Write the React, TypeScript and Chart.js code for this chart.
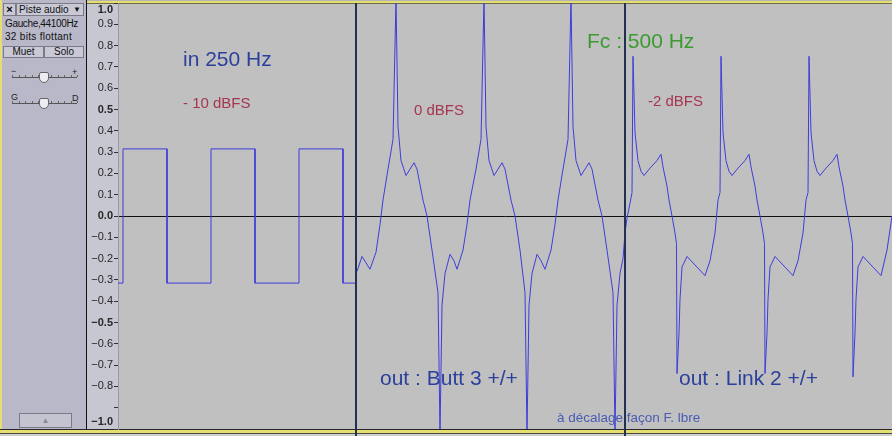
import React, { useEffect, useRef } from 'react';
import { Chart, registerables } from 'chart.js';

Chart.register(...registerables);

// x = sample index (44100 Hz), y = amplitude
const X_MIN = 0;
const X_MAX = 1548;

const INPUT_X = [0, 10, 10, 98, 98, 186, 186, 274, 274, 362, 362, 450, 450, 476];
const INPUT_Y = [-0.315, -0.315, 0.315, 0.315, -0.315, -0.315, 0.315, 0.315, -0.315, -0.315, 0.315, 0.315, -0.315, -0.315];

const BUTT_X = [478, 488, 496, 504, 516, 524, 530, 540, 550, 556, 560, 566, 576, 584, 592, 598, 610, 618, 628, 640, 644, 648, 654, 664, 672, 678, 690, 698, 704, 716, 726, 732, 736, 742, 752, 760, 768, 774, 786, 794, 804, 814, 818, 822, 828, 838, 846, 854, 866, 874, 880, 890, 900, 906, 910, 916, 926, 934, 942, 948, 960, 968, 978, 990, 994, 998, 1004, 1010, 1014];
const BUTT_Y = [-0.26, -0.19, -0.22, -0.25, -0.17, -0.04, 0.075, 0.22, 0.36, 1.02, 0.42, 0.26, 0.19, 0.22, 0.25, 0.22, 0.075, 0, -0.16, -0.36, -1.02, -0.42, -0.27, -0.18, -0.21, -0.25, -0.16, -0.04, 0.075, 0.22, 0.36, 1.02, 0.42, 0.26, 0.19, 0.22, 0.25, 0.22, 0.075, 0, -0.16, -0.36, -1.02, -0.42, -0.27, -0.18, -0.21, -0.25, -0.16, -0.04, 0.075, 0.22, 0.36, 1.02, 0.42, 0.26, 0.19, 0.22, 0.25, 0.22, 0.075, 0, -0.16, -0.36, -1.02, -0.42, -0.27, -0.2, -0.08];

const LINK_X = [1014, 1018, 1024, 1028, 1030, 1034, 1040, 1046, 1052, 1064, 1078, 1086, 1090, 1098, 1102, 1108, 1114, 1117, 1118, 1122, 1124, 1128, 1138, 1158, 1174, 1184, 1194, 1200, 1204, 1206, 1210, 1216, 1222, 1228, 1240, 1254, 1262, 1266, 1274, 1278, 1284, 1290, 1293, 1294, 1298, 1300, 1304, 1314, 1334, 1350, 1360, 1370, 1376, 1380, 1382, 1386, 1392, 1398, 1404, 1416, 1430, 1438, 1442, 1450, 1454, 1460, 1466, 1469, 1470, 1474, 1476, 1480, 1490, 1510, 1526, 1538, 1548];
const LINK_Y = [-0.08, -0.01, 0.06, 0.11, 0.75, 0.39, 0.26, 0.21, 0.19, 0.225, 0.26, 0.29, 0.23, 0.14, 0.075, 0, -0.08, -0.13, -0.74, -0.55, -0.39, -0.24, -0.19, -0.24, -0.28, -0.21, -0.08, 0.075, 0.11, 0.75, 0.39, 0.26, 0.21, 0.19, 0.225, 0.26, 0.29, 0.23, 0.14, 0.075, 0, -0.08, -0.13, -0.74, -0.55, -0.39, -0.24, -0.19, -0.24, -0.28, -0.21, -0.08, 0.075, 0.11, 0.75, 0.39, 0.26, 0.21, 0.19, 0.225, 0.26, 0.29, 0.23, 0.14, 0.075, 0, -0.08, -0.13, -0.755, -0.55, -0.39, -0.24, -0.19, -0.24, -0.28, -0.16, 0.0];

const CLIP_BOUNDARIES = [476, 1014];

const TICK_VALUES = [-1, -0.9, -0.8, -0.7, -0.6, -0.5, -0.4, -0.3, -0.2, -0.1, 0, 0.1, 0.2, 0.3, 0.4, 0.5, 0.6, 0.7, 0.8, 0.9, 1];
const TICK_LABELS = ['\u22121.0', '', '\u22120.8', '\u22120.7', '\u22120.6', '\u22120.5', '\u22120.4', '\u22120.3', '\u22120.2', '\u22120.1', '0.0', '0.1', '0.2', '0.3', '0.4', '0.5', '0.6', '0.7', '0.8', '0.9', '1.0'];
const MAJOR_TICKS = [-1, -0.5, 0, 0.5, 1];

const WAVE_COLOR = '#3d3dd8';
const YELLOW = '#e4df70';

const toPoints = (xs: number[], ys: number[]) => xs.map((x, i) => ({ x, y: ys[i] }));

const boundaryPlugin = {
  id: 'clipBoundaries',
  afterDatasetsDraw(chart: any) {
    const { ctx, chartArea } = chart;
    const xs = chart.scales.x;
    ctx.save();
    ctx.strokeStyle = '#22314f';
    ctx.lineWidth = 2;
    CLIP_BOUNDARIES.forEach((v) => {
      const px = Math.round(xs.getPixelForValue(v));
      ctx.beginPath();
      ctx.moveTo(px, chartArea.top);
      ctx.lineTo(px, chart.height);
      ctx.stroke();
    });
    ctx.restore();
  },
};

function WaveChart() {
  const ref = useRef<HTMLCanvasElement | null>(null);
  useEffect(() => {
    if (!ref.current) return;
    const ds = (data: any) => ({
      data,
      borderColor: WAVE_COLOR,
      borderWidth: 1,
      pointRadius: 0,
      fill: false,
      tension: 0,
    });
    const chart = new Chart(ref.current, {
      type: 'line',
      data: {
        datasets: [
          { label: 'in 250 Hz', ...ds(toPoints(INPUT_X, INPUT_Y)) },
          { label: 'out : Butt 3 +/+', ...ds(toPoints(BUTT_X, BUTT_Y)) },
          { label: 'out : Link 2 +/+', ...ds(toPoints(LINK_X, LINK_Y)) },
        ],
      },
      options: {
        animation: false,
        responsive: false,
        events: [],
        layout: { padding: { top: 3, bottom: 7, left: 0, right: 0 } },
        plugins: { legend: { display: false }, tooltip: { enabled: false } },
        scales: {
          x: { type: 'linear', min: X_MIN, max: X_MAX, display: false },
          y: {
            type: 'linear',
            min: -1,
            max: 1,
            position: 'left',
            afterBuildTicks: (scale: any) => {
              scale.ticks = TICK_VALUES.map((v) => ({ value: v }));
            },
            afterFit: (scale: any) => {
              scale.width = 31;
              scale.paddingTop = 0;
              scale.paddingBottom = 0;
            },
            border: { display: true, color: '#9a9aa6', width: 1 },
            grid: {
              drawTicks: true,
              tickLength: 4,
              tickColor: '#333333',
              color: (ctx: any) => (ctx.tick && ctx.tick.value === 0 ? '#111111' : 'rgba(0,0,0,0)'),
              lineWidth: 1,
            },
            ticks: {
              autoSkip: false,
              padding: 1,
              color: '#262626',
              font: (ctx: any) => ({
                family: 'Liberation Sans, Arial, sans-serif',
                size: 11,
                weight: ctx.tick && MAJOR_TICKS.includes(ctx.tick.value) ? 'bold' : 'normal',
              }),
              callback: (value: any, index: number) => {
                const label = TICK_LABELS[index];
                if (value === 1) return ['', label];
                if (value === -1) return [label, ''];
                return label;
              },
            },
          },
        },
      },
      plugins: [boundaryPlugin],
    } as any);
    return () => chart.destroy();
  }, []);
  return <canvas ref={ref} width={805} height={436} style={{ position: 'absolute', left: 87, top: 0, width: 805, height: 436 }} />;
}

const abs = (s: React.CSSProperties): React.CSSProperties => ({ position: 'absolute', ...s });

function Slider({ top, left, right }: { top: number; left: string; right: string }) {
  const ticks = [0, 1, 2, 3, 4, 5, 6, 7, 8, 9, 10];
  return (
    <>
      <div style={abs({ left: 11, top: top - 11, fontSize: 9, color: '#222', lineHeight: '10px' })}>{left}</div>
      <div style={abs({ left: 72, top: top - 10, fontSize: 9, color: '#222', lineHeight: '10px' })}>{right}</div>
      <div style={abs({ left: 12, top, width: 65, height: 1, background: '#555' })} />
      {ticks.map((t) => (
        <div key={t} style={abs({ left: 12 + t * 6.5, top: top - 2, width: 1, height: 2, background: '#666' })} />
      ))}
      <div style={abs({ left: 39, top: top - 5, width: 8, height: 9, background: '#ececf2', border: '1px solid #666', borderRadius: '2px 2px 5px 5px' })} />
    </>
  );
}

function TrackPanel() {
  const text: React.CSSProperties = { fontSize: 10, color: '#111', lineHeight: '12px', whiteSpace: 'nowrap' };
  const box: React.CSSProperties = { background: '#c9c9d6', border: '1px solid #7a7a88', boxSizing: 'border-box' };
  return (
    <div style={abs({ left: 0, top: 0, width: 86, height: 429, background: '#b8b8c8', fontFamily: 'Liberation Sans, Arial, sans-serif' })}>
      <div style={abs({ left: 0, top: 0, width: 2, height: 436, background: YELLOW })} />
      <div style={abs({ ...box, left: 3, top: 3, width: 13, height: 13, fontSize: 11, fontWeight: 'bold', textAlign: 'center', lineHeight: '11px' })}>×</div>
      <div style={abs({ ...box, left: 16, top: 3, width: 68, height: 13 })}>
        <span style={abs({ ...text, left: 2, top: 0, fontSize: 10, lineHeight: '11px' })}>Piste audio</span>
        <span style={abs({ right: 2, top: 1, fontSize: 8, lineHeight: '10px', color: '#111' })}>▼</span>
      </div>
      <div style={abs({ ...text, left: 5, top: 18, letterSpacing: '-0.35px' })}>Gauche,44100Hz</div>
      <div style={abs({ ...text, left: 5, top: 31, letterSpacing: '0.3px' })}>32 bits flottant</div>
      <div style={abs({ ...box, left: 3, top: 46, width: 41, height: 12, fontSize: 10, textAlign: 'center', lineHeight: '10px', color: '#111' })}>Muet</div>
      <div style={abs({ ...box, left: 44, top: 46, width: 40, height: 12, fontSize: 10, textAlign: 'center', lineHeight: '10px', color: '#111' })}>Solo</div>
      <Slider top={77} left="−" right="+" />
      <Slider top={103} left="G" right="D" />
      <div style={abs({ ...box, left: 19, top: 413, width: 53, height: 15, fontSize: 8, textAlign: 'center', lineHeight: '13px', color: '#8a8a96', background: '#c4c4d0' })}>▲</div>
    </div>
  );
}

function Label({ text, left, top, size, color }: { text: string; left: number; top: number; size: number; color: string }) {
  return (
    <div style={abs({ left, top, fontSize: size, lineHeight: `${size}px`, color, whiteSpace: 'nowrap', fontFamily: 'Liberation Sans, Arial, Helvetica, sans-serif' })}>{text}</div>
  );
}

export default function App() {
  return (
    <div style={{ position: 'fixed', left: 0, top: 0, width: 892, height: 436, overflow: 'hidden', background: '#c0c0c0' }}>
      <div style={abs({ left: 118, top: 0, width: 774, height: 436, background: '#c0c0c0' })} />
      <div style={abs({ left: 87, top: 0, width: 31, height: 429, background: '#c7c7d1' })} />
      <TrackPanel />
      <div style={abs({ left: 86, top: 0, width: 1, height: 429, background: '#111' })} />
      <div style={abs({ left: 87, top: 0, width: 805, height: 1, background: '#b4b4b4' })} />
      <div style={abs({ left: 87, top: 1, width: 805, height: 2, background: YELLOW })} />
      <div style={abs({ left: 87, top: 3, width: 805, height: 1, background: '#6e6c48' })} />
      <div style={abs({ left: 0, top: 429, width: 892, height: 1, background: '#262626' })} />
      <div style={abs({ left: 0, top: 430, width: 892, height: 3, background: YELLOW })} />
      <div style={abs({ left: 0, top: 433, width: 892, height: 1, background: '#4a4a40' })} />
      <div style={abs({ left: 0, top: 434, width: 892, height: 2, background: '#cfcfcf' })} />
      <WaveChart />
      <Label text="in 250 Hz" left={183} top={48} size={21} color="#2b3f9c" />
      <Label text="- 10 dBFS" left={183} top={95} size={15} color="#a63650" />
      <Label text="0 dBFS" left={414} top={102} size={15} color="#a63650" />
      <Label text="Fc : 500 Hz" left={587} top={30} size={21} color="#3c9a30" />
      <Label text="-2 dBFS" left={648} top={93} size={15} color="#a63650" />
      <Label text="out : Butt 3 +/+" left={380} top={367} size={21} color="#2b3f9c" />
      <Label text="out : Link 2 +/+" left={679} top={367} size={21} color="#2b3f9c" />
      <Label text="à décalage façon F. lbre" left={557} top={411} size={13.5} color="#4a5cb2" />
    </div>
  );
}
